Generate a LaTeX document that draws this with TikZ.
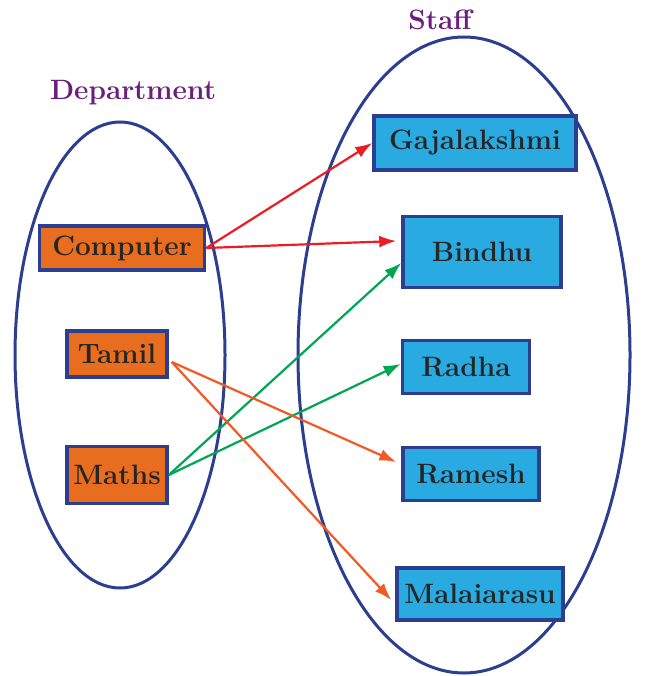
\documentclass[tikz,border=0pt]{standalone}
\usetikzlibrary{arrows.meta,positioning,calc}
\definecolor{setblue}{HTML}{2B3E8F}
\definecolor{deptfill}{HTML}{E86D1F}
\definecolor{stafffill}{HTML}{29ABE2}
\definecolor{titlepurple}{HTML}{6B1F7C}
\definecolor{mapred}{HTML}{ED1C24}
\definecolor{mapgreen}{HTML}{00A651}
\definecolor{maporange}{HTML}{F15A24}
\begin{document}
\begin{tikzpicture}[x=1pt,y=-1pt,>={Latex[length=17pt,width=12pt]},
  set/.style={draw=setblue,line width=3pt},
  title/.style={text=titlepurple,font=\fontsize{28}{32}\selectfont\bfseries},
  elem/.style={draw=setblue,line width=3.5pt,inner sep=0pt,text=black!85,font=\fontsize{28}{32}\selectfont\bfseries},
  dept/.style={elem,fill=deptfill},
  staff/.style={elem,fill=stafffill},
  map/.style={->,line width=2.2pt}]
\useasboundingbox (0,0) rectangle (645,676);
% the two sets
\draw[set] (120,355) ellipse [x radius=105,y radius=233];
\draw[set] (464,355) ellipse [x radius=166,y radius=318];
\node[title] (depttitle) at (133,93) {Department};
\node[title] (stafftitle) at (440,20) {Staff};
% department elements
\node[dept,minimum width=165pt,minimum height=44pt] (comp) at (122,248) {Computer};
\node[dept,minimum width=100pt,minimum height=46pt] (tamil) at (117,354) {Tamil};
\node[dept,minimum width=100pt,minimum height=57pt] (maths) at (117,475) {Maths};
% staff elements
\node[staff,minimum width=202pt,minimum height=54pt] (gaja) at (475,143) {Gajalakshmi};
\node[staff,minimum width=158pt,minimum height=71pt] (bindhu) at (482,252) {Bindhu};
\node[staff,minimum width=127pt,minimum height=53pt] (radha) at (466,367) {Radha};
\node[staff,minimum width=136pt,minimum height=53pt] (ramesh) at (471,474) {Ramesh};
\node[staff,minimum width=166pt,minimum height=52pt] (malai) at (480,594) {Malaiarasu};
% mapping
\draw[map,mapred] (comp.east)--(gaja.west);
\draw[map,mapred] (comp.east)--([xshift=-5pt,yshift=11pt]bindhu.west);
\draw[map,mapgreen] (maths.east)--([yshift=-11pt]bindhu.west);
\draw[map,mapgreen] (maths.east)--([yshift=3pt]radha.west);
\draw[map,maporange] ([xshift=3pt,yshift=-8pt]tamil.east)--([xshift=-5pt,yshift=12pt]ramesh.west);
\draw[map,maporange] ([xshift=3pt,yshift=-8pt]tamil.east)--([xshift=-4pt,yshift=-6pt]malai.west);
\end{tikzpicture}
\end{document}
